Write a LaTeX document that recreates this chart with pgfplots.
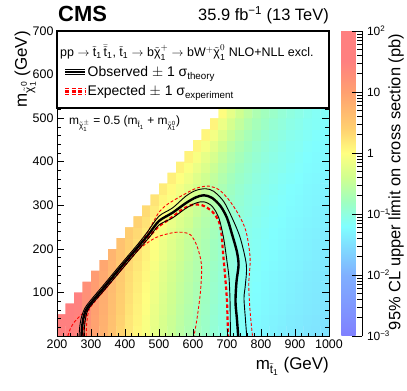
\documentclass[border=0pt]{standalone}
\usepackage{fontspec}
\setmainfont{Liberation Sans}
\setsansfont{Liberation Sans}
\usepackage{amsmath}
\usepackage{pgfplots}
\usepackage{pgfplotstable}
\pgfplotsset{compat=1.18}

\definecolor{cRed}{HTML}{FF0000}
\newcommand{\tst}{\tilde{\text{t}}}
\newcommand{\tchi}{\tilde{\text{χ}}}
\newcommand{\one}{\text{1}}

\pgfplotsset{colormap={cmsroot}{rgb255(0cm)=(128,128,255) rgb255(10cm)=(128,176,255)
  rgb255(15cm)=(128,224,255) rgb255(18cm)=(128,255,255) rgb255(22cm)=(160,255,192)
  rgb255(26cm)=(208,255,144) rgb255(30cm)=(255,255,128) rgb255(34cm)=(255,208,112)
  rgb255(40cm)=(255,160,112) rgb255(45cm)=(255,128,128) rgb255(50cm)=(255,128,128)}}

% log10 of the 95% CL upper limit (pb), one line per stop-mass column
\pgfplotstableread[row sep=\\]{
x y z\\
212.5 12.5 1.84\\ 212.5 37.5 1.86\\ 212.5 62.5 1.86\\ 212.5 87.5 1.86\\ 212.5 112.5 1.86\\ 212.5 137.5 1.86\\ 212.5 162.5 1.86\\ 212.5 187.5 1.86\\ 212.5 212.5 1.86\\ 212.5 237.5 1.86\\ 212.5 262.5 1.86\\ 212.5 287.5 1.86\\ 212.5 312.5 1.86\\ 212.5 337.5 1.86\\ 212.5 362.5 1.86\\ 212.5 387.5 1.86\\ 212.5 412.5 1.86\\ 212.5 437.5 1.86\\ 212.5 462.5 1.86\\ 212.5 487.5 1.86\\ 212.5 512.5 1.86\\
237.5 12.5 1.63\\ 237.5 37.5 1.65\\ 237.5 62.5 1.68\\ 237.5 87.5 1.68\\ 237.5 112.5 1.68\\ 237.5 137.5 1.68\\ 237.5 162.5 1.68\\ 237.5 187.5 1.68\\ 237.5 212.5 1.68\\ 237.5 237.5 1.68\\ 237.5 262.5 1.68\\ 237.5 287.5 1.68\\ 237.5 312.5 1.68\\ 237.5 337.5 1.68\\ 237.5 362.5 1.68\\ 237.5 387.5 1.68\\ 237.5 412.5 1.68\\ 237.5 437.5 1.68\\ 237.5 462.5 1.68\\ 237.5 487.5 1.68\\ 237.5 512.5 1.68\\
262.5 12.5 1.43\\ 262.5 37.5 1.44\\ 262.5 62.5 1.47\\ 262.5 87.5 1.49\\ 262.5 112.5 1.49\\ 262.5 137.5 1.49\\ 262.5 162.5 1.49\\ 262.5 187.5 1.49\\ 262.5 212.5 1.49\\ 262.5 237.5 1.49\\ 262.5 262.5 1.49\\ 262.5 287.5 1.49\\ 262.5 312.5 1.49\\ 262.5 337.5 1.49\\ 262.5 362.5 1.49\\ 262.5 387.5 1.49\\ 262.5 412.5 1.49\\ 262.5 437.5 1.49\\ 262.5 462.5 1.49\\ 262.5 487.5 1.49\\ 262.5 512.5 1.49\\
287.5 12.5 1.17\\ 287.5 37.5 1.19\\ 287.5 62.5 1.21\\ 287.5 87.5 1.23\\ 287.5 112.5 1.25\\ 287.5 137.5 1.25\\ 287.5 162.5 1.25\\ 287.5 187.5 1.25\\ 287.5 212.5 1.25\\ 287.5 237.5 1.25\\ 287.5 262.5 1.25\\ 287.5 287.5 1.25\\ 287.5 312.5 1.25\\ 287.5 337.5 1.25\\ 287.5 362.5 1.25\\ 287.5 387.5 1.25\\ 287.5 412.5 1.25\\ 287.5 437.5 1.25\\ 287.5 462.5 1.25\\ 287.5 487.5 1.25\\ 287.5 512.5 1.25\\
312.5 12.5 0.97\\ 312.5 37.5 0.98\\ 312.5 62.5 1.00\\ 312.5 87.5 1.02\\ 312.5 112.5 1.04\\ 312.5 137.5 1.06\\ 312.5 162.5 1.06\\ 312.5 187.5 1.06\\ 312.5 212.5 1.06\\ 312.5 237.5 1.06\\ 312.5 262.5 1.06\\ 312.5 287.5 1.06\\ 312.5 312.5 1.06\\ 312.5 337.5 1.06\\ 312.5 362.5 1.06\\ 312.5 387.5 1.06\\ 312.5 412.5 1.06\\ 312.5 437.5 1.06\\ 312.5 462.5 1.06\\ 312.5 487.5 1.06\\ 312.5 512.5 1.06\\
337.5 12.5 0.77\\ 337.5 37.5 0.79\\ 337.5 62.5 0.81\\ 337.5 87.5 0.83\\ 337.5 112.5 0.85\\ 337.5 137.5 0.87\\ 337.5 162.5 0.91\\ 337.5 187.5 0.91\\ 337.5 212.5 0.91\\ 337.5 237.5 0.91\\ 337.5 262.5 0.91\\ 337.5 287.5 0.91\\ 337.5 312.5 0.91\\ 337.5 337.5 0.91\\ 337.5 362.5 0.91\\ 337.5 387.5 0.91\\ 337.5 412.5 0.91\\ 337.5 437.5 0.91\\ 337.5 462.5 0.91\\ 337.5 487.5 0.91\\ 337.5 512.5 0.91\\
362.5 12.5 0.57\\ 362.5 37.5 0.59\\ 362.5 62.5 0.61\\ 362.5 87.5 0.63\\ 362.5 112.5 0.65\\ 362.5 137.5 0.67\\ 362.5 162.5 0.71\\ 362.5 187.5 0.74\\ 362.5 212.5 0.74\\ 362.5 237.5 0.74\\ 362.5 262.5 0.74\\ 362.5 287.5 0.74\\ 362.5 312.5 0.74\\ 362.5 337.5 0.74\\ 362.5 362.5 0.74\\ 362.5 387.5 0.74\\ 362.5 412.5 0.74\\ 362.5 437.5 0.74\\ 362.5 462.5 0.74\\ 362.5 487.5 0.74\\ 362.5 512.5 0.74\\
387.5 12.5 0.37\\ 387.5 37.5 0.38\\ 387.5 62.5 0.41\\ 387.5 87.5 0.43\\ 387.5 112.5 0.45\\ 387.5 137.5 0.47\\ 387.5 162.5 0.50\\ 387.5 187.5 0.54\\ 387.5 212.5 0.57\\ 387.5 237.5 0.57\\ 387.5 262.5 0.57\\ 387.5 287.5 0.57\\ 387.5 312.5 0.57\\ 387.5 337.5 0.57\\ 387.5 362.5 0.57\\ 387.5 387.5 0.57\\ 387.5 412.5 0.57\\ 387.5 437.5 0.57\\ 387.5 462.5 0.57\\ 387.5 487.5 0.57\\ 387.5 512.5 0.57\\
412.5 12.5 0.20\\ 412.5 37.5 0.21\\ 412.5 62.5 0.24\\ 412.5 87.5 0.26\\ 412.5 112.5 0.28\\ 412.5 137.5 0.30\\ 412.5 162.5 0.33\\ 412.5 187.5 0.37\\ 412.5 212.5 0.40\\ 412.5 237.5 0.44\\ 412.5 262.5 0.44\\ 412.5 287.5 0.44\\ 412.5 312.5 0.44\\ 412.5 337.5 0.44\\ 412.5 362.5 0.44\\ 412.5 387.5 0.44\\ 412.5 412.5 0.44\\ 412.5 437.5 0.44\\ 412.5 462.5 0.44\\ 412.5 487.5 0.44\\ 412.5 512.5 0.44\\
437.5 12.5 0.07\\ 437.5 37.5 0.09\\ 437.5 62.5 0.11\\ 437.5 87.5 0.13\\ 437.5 112.5 0.15\\ 437.5 137.5 0.17\\ 437.5 162.5 0.21\\ 437.5 187.5 0.24\\ 437.5 212.5 0.28\\ 437.5 237.5 0.32\\ 437.5 262.5 0.38\\ 437.5 287.5 0.38\\ 437.5 312.5 0.38\\ 437.5 337.5 0.38\\ 437.5 362.5 0.38\\ 437.5 387.5 0.38\\ 437.5 412.5 0.38\\ 437.5 437.5 0.38\\ 437.5 462.5 0.38\\ 437.5 487.5 0.38\\ 437.5 512.5 0.38\\
462.5 12.5 -0.06\\ 462.5 37.5 -0.05\\ 462.5 62.5 -0.02\\ 462.5 87.5 0.00\\ 462.5 112.5 0.02\\ 462.5 137.5 0.05\\ 462.5 162.5 0.08\\ 462.5 187.5 0.11\\ 462.5 212.5 0.15\\ 462.5 237.5 0.19\\ 462.5 262.5 0.25\\ 462.5 287.5 0.31\\ 462.5 312.5 0.31\\ 462.5 337.5 0.31\\ 462.5 362.5 0.31\\ 462.5 387.5 0.31\\ 462.5 412.5 0.31\\ 462.5 437.5 0.31\\ 462.5 462.5 0.31\\ 462.5 487.5 0.31\\ 462.5 512.5 0.31\\
487.5 12.5 -0.20\\ 487.5 37.5 -0.19\\ 487.5 62.5 -0.17\\ 487.5 87.5 -0.14\\ 487.5 112.5 -0.12\\ 487.5 137.5 -0.10\\ 487.5 162.5 -0.07\\ 487.5 187.5 -0.03\\ 487.5 212.5 0.00\\ 487.5 237.5 0.04\\ 487.5 262.5 0.10\\ 487.5 287.5 0.16\\ 487.5 312.5 0.23\\ 487.5 337.5 0.23\\ 487.5 362.5 0.23\\ 487.5 387.5 0.23\\ 487.5 412.5 0.23\\ 487.5 437.5 0.23\\ 487.5 462.5 0.23\\ 487.5 487.5 0.23\\ 487.5 512.5 0.23\\
512.5 12.5 -0.34\\ 512.5 37.5 -0.33\\ 512.5 62.5 -0.31\\ 512.5 87.5 -0.29\\ 512.5 112.5 -0.26\\ 512.5 137.5 -0.24\\ 512.5 162.5 -0.22\\ 512.5 187.5 -0.18\\ 512.5 212.5 -0.15\\ 512.5 237.5 -0.11\\ 512.5 262.5 -0.06\\ 512.5 287.5 0.00\\ 512.5 312.5 0.07\\ 512.5 337.5 0.15\\ 512.5 362.5 0.15\\ 512.5 387.5 0.15\\ 512.5 412.5 0.15\\ 512.5 437.5 0.15\\ 512.5 462.5 0.15\\ 512.5 487.5 0.15\\ 512.5 512.5 0.15\\
537.5 12.5 -0.45\\ 537.5 37.5 -0.44\\ 537.5 62.5 -0.42\\ 537.5 87.5 -0.40\\ 537.5 112.5 -0.38\\ 537.5 137.5 -0.36\\ 537.5 162.5 -0.33\\ 537.5 187.5 -0.30\\ 537.5 212.5 -0.26\\ 537.5 237.5 -0.23\\ 537.5 262.5 -0.18\\ 537.5 287.5 -0.12\\ 537.5 312.5 -0.05\\ 537.5 337.5 0.03\\ 537.5 362.5 0.13\\ 537.5 387.5 0.13\\ 537.5 412.5 0.13\\ 537.5 437.5 0.13\\ 537.5 462.5 0.13\\ 537.5 487.5 0.13\\ 537.5 512.5 0.13\\
562.5 12.5 -0.57\\ 562.5 37.5 -0.55\\ 562.5 62.5 -0.53\\ 562.5 87.5 -0.51\\ 562.5 112.5 -0.49\\ 562.5 137.5 -0.47\\ 562.5 162.5 -0.44\\ 562.5 187.5 -0.41\\ 562.5 212.5 -0.38\\ 562.5 237.5 -0.34\\ 562.5 262.5 -0.30\\ 562.5 287.5 -0.24\\ 562.5 312.5 -0.18\\ 562.5 337.5 -0.10\\ 562.5 362.5 -0.01\\ 562.5 387.5 0.11\\ 562.5 412.5 0.11\\ 562.5 437.5 0.11\\ 562.5 462.5 0.11\\ 562.5 487.5 0.11\\ 562.5 512.5 0.11\\
587.5 12.5 -0.67\\ 587.5 37.5 -0.65\\ 587.5 62.5 -0.63\\ 587.5 87.5 -0.61\\ 587.5 112.5 -0.59\\ 587.5 137.5 -0.57\\ 587.5 162.5 -0.55\\ 587.5 187.5 -0.52\\ 587.5 212.5 -0.49\\ 587.5 237.5 -0.45\\ 587.5 262.5 -0.40\\ 587.5 287.5 -0.35\\ 587.5 312.5 -0.30\\ 587.5 337.5 -0.22\\ 587.5 362.5 -0.13\\ 587.5 387.5 -0.03\\ 587.5 412.5 0.10\\ 587.5 437.5 0.10\\ 587.5 462.5 0.10\\ 587.5 487.5 0.10\\ 587.5 512.5 0.10\\
612.5 12.5 -0.77\\ 612.5 37.5 -0.76\\ 612.5 62.5 -0.74\\ 612.5 87.5 -0.71\\ 612.5 112.5 -0.70\\ 612.5 137.5 -0.67\\ 612.5 162.5 -0.65\\ 612.5 187.5 -0.63\\ 612.5 212.5 -0.60\\ 612.5 237.5 -0.57\\ 612.5 262.5 -0.53\\ 612.5 287.5 -0.47\\ 612.5 312.5 -0.42\\ 612.5 337.5 -0.36\\ 612.5 362.5 -0.27\\ 612.5 387.5 -0.17\\ 612.5 412.5 -0.06\\ 612.5 437.5 0.08\\ 612.5 462.5 0.08\\ 612.5 487.5 0.08\\ 612.5 512.5 0.08\\
637.5 12.5 -0.86\\ 637.5 37.5 -0.85\\ 637.5 62.5 -0.83\\ 637.5 87.5 -0.81\\ 637.5 112.5 -0.79\\ 637.5 137.5 -0.77\\ 637.5 162.5 -0.75\\ 637.5 187.5 -0.72\\ 637.5 212.5 -0.70\\ 637.5 237.5 -0.67\\ 637.5 262.5 -0.63\\ 637.5 287.5 -0.59\\ 637.5 312.5 -0.53\\ 637.5 337.5 -0.48\\ 637.5 362.5 -0.41\\ 637.5 387.5 -0.31\\ 637.5 412.5 -0.21\\ 637.5 437.5 -0.08\\ 637.5 462.5 0.08\\ 637.5 487.5 0.08\\ 637.5 512.5 0.08\\
662.5 12.5 -0.94\\ 662.5 37.5 -0.93\\ 662.5 62.5 -0.91\\ 662.5 87.5 -0.89\\ 662.5 112.5 -0.88\\ 662.5 137.5 -0.86\\ 662.5 162.5 -0.84\\ 662.5 187.5 -0.80\\ 662.5 212.5 -0.79\\ 662.5 237.5 -0.76\\ 662.5 262.5 -0.72\\ 662.5 287.5 -0.68\\ 662.5 312.5 -0.64\\ 662.5 337.5 -0.58\\ 662.5 362.5 -0.52\\ 662.5 387.5 -0.44\\ 662.5 412.5 -0.34\\ 662.5 437.5 -0.23\\ 662.5 462.5 -0.09\\ 662.5 487.5 0.09\\ 662.5 512.5 0.09\\
687.5 12.5 -1.03\\ 687.5 37.5 -1.01\\ 687.5 62.5 -1.00\\ 687.5 87.5 -0.98\\ 687.5 112.5 -0.96\\ 687.5 137.5 -0.95\\ 687.5 162.5 -0.92\\ 687.5 187.5 -0.90\\ 687.5 212.5 -0.87\\ 687.5 237.5 -0.86\\ 687.5 262.5 -0.83\\ 687.5 287.5 -0.79\\ 687.5 312.5 -0.75\\ 687.5 337.5 -0.71\\ 687.5 362.5 -0.65\\ 687.5 387.5 -0.58\\ 687.5 412.5 -0.51\\ 687.5 437.5 -0.41\\ 687.5 462.5 -0.29\\ 687.5 487.5 -0.15\\ 687.5 512.5 0.02\\
712.5 12.5 -1.10\\ 712.5 37.5 -1.09\\ 712.5 62.5 -1.07\\ 712.5 87.5 -1.05\\ 712.5 112.5 -1.04\\ 712.5 137.5 -1.02\\ 712.5 162.5 -1.00\\ 712.5 187.5 -0.98\\ 712.5 212.5 -0.96\\ 712.5 237.5 -0.93\\ 712.5 262.5 -0.91\\ 712.5 287.5 -0.88\\ 712.5 312.5 -0.85\\ 712.5 337.5 -0.81\\ 712.5 362.5 -0.77\\ 712.5 387.5 -0.70\\ 712.5 412.5 -0.64\\ 712.5 437.5 -0.57\\ 712.5 462.5 -0.47\\ 712.5 487.5 -0.35\\ 712.5 512.5 -0.21\\
737.5 12.5 -1.16\\ 737.5 37.5 -1.15\\ 737.5 62.5 -1.13\\ 737.5 87.5 -1.11\\ 737.5 112.5 -1.10\\ 737.5 137.5 -1.09\\ 737.5 162.5 -1.07\\ 737.5 187.5 -1.05\\ 737.5 212.5 -1.03\\ 737.5 237.5 -1.01\\ 737.5 262.5 -0.98\\ 737.5 287.5 -0.96\\ 737.5 312.5 -0.93\\ 737.5 337.5 -0.90\\ 737.5 362.5 -0.86\\ 737.5 387.5 -0.81\\ 737.5 412.5 -0.75\\ 737.5 437.5 -0.69\\ 737.5 462.5 -0.62\\ 737.5 487.5 -0.51\\ 737.5 512.5 -0.40\\
762.5 12.5 -1.21\\ 762.5 37.5 -1.20\\ 762.5 62.5 -1.18\\ 762.5 87.5 -1.17\\ 762.5 112.5 -1.15\\ 762.5 137.5 -1.14\\ 762.5 162.5 -1.12\\ 762.5 187.5 -1.10\\ 762.5 212.5 -1.09\\ 762.5 237.5 -1.07\\ 762.5 262.5 -1.05\\ 762.5 287.5 -1.01\\ 762.5 312.5 -1.00\\ 762.5 337.5 -0.97\\ 762.5 362.5 -0.93\\ 762.5 387.5 -0.89\\ 762.5 412.5 -0.85\\ 762.5 437.5 -0.79\\ 762.5 462.5 -0.73\\ 762.5 487.5 -0.65\\ 762.5 512.5 -0.55\\
787.5 12.5 -1.25\\ 787.5 37.5 -1.24\\ 787.5 62.5 -1.22\\ 787.5 87.5 -1.21\\ 787.5 112.5 -1.20\\ 787.5 137.5 -1.18\\ 787.5 162.5 -1.17\\ 787.5 187.5 -1.15\\ 787.5 212.5 -1.13\\ 787.5 237.5 -1.12\\ 787.5 262.5 -1.09\\ 787.5 287.5 -1.07\\ 787.5 312.5 -1.04\\ 787.5 337.5 -1.03\\ 787.5 362.5 -1.00\\ 787.5 387.5 -0.96\\ 787.5 412.5 -0.92\\ 787.5 437.5 -0.88\\ 787.5 462.5 -0.82\\ 787.5 487.5 -0.75\\ 787.5 512.5 -0.68\\
812.5 12.5 -1.29\\ 812.5 37.5 -1.28\\ 812.5 62.5 -1.26\\ 812.5 87.5 -1.25\\ 812.5 112.5 -1.24\\ 812.5 137.5 -1.23\\ 812.5 162.5 -1.21\\ 812.5 187.5 -1.19\\ 812.5 212.5 -1.18\\ 812.5 237.5 -1.16\\ 812.5 262.5 -1.14\\ 812.5 287.5 -1.12\\ 812.5 312.5 -1.10\\ 812.5 337.5 -1.07\\ 812.5 362.5 -1.05\\ 812.5 387.5 -1.02\\ 812.5 412.5 -0.99\\ 812.5 437.5 -0.95\\ 812.5 462.5 -0.91\\ 812.5 487.5 -0.84\\ 812.5 512.5 -0.78\\
837.5 12.5 -1.32\\ 837.5 37.5 -1.31\\ 837.5 62.5 -1.29\\ 837.5 87.5 -1.28\\ 837.5 112.5 -1.27\\ 837.5 137.5 -1.26\\ 837.5 162.5 -1.24\\ 837.5 187.5 -1.22\\ 837.5 212.5 -1.21\\ 837.5 237.5 -1.20\\ 837.5 262.5 -1.18\\ 837.5 287.5 -1.16\\ 837.5 312.5 -1.14\\ 837.5 337.5 -1.12\\ 837.5 362.5 -1.09\\ 837.5 387.5 -1.07\\ 837.5 412.5 -1.04\\ 837.5 437.5 -1.01\\ 837.5 462.5 -0.97\\ 837.5 487.5 -0.92\\ 837.5 512.5 -0.86\\
862.5 12.5 -1.35\\ 862.5 37.5 -1.34\\ 862.5 62.5 -1.32\\ 862.5 87.5 -1.31\\ 862.5 112.5 -1.30\\ 862.5 137.5 -1.29\\ 862.5 162.5 -1.27\\ 862.5 187.5 -1.26\\ 862.5 212.5 -1.24\\ 862.5 237.5 -1.23\\ 862.5 262.5 -1.21\\ 862.5 287.5 -1.19\\ 862.5 312.5 -1.18\\ 862.5 337.5 -1.16\\ 862.5 362.5 -1.14\\ 862.5 387.5 -1.10\\ 862.5 412.5 -1.09\\ 862.5 437.5 -1.06\\ 862.5 462.5 -1.02\\ 862.5 487.5 -0.98\\ 862.5 512.5 -0.94\\
887.5 12.5 -1.38\\ 887.5 37.5 -1.37\\ 887.5 62.5 -1.35\\ 887.5 87.5 -1.34\\ 887.5 112.5 -1.33\\ 887.5 137.5 -1.32\\ 887.5 162.5 -1.30\\ 887.5 187.5 -1.29\\ 887.5 212.5 -1.28\\ 887.5 237.5 -1.26\\ 887.5 262.5 -1.25\\ 887.5 287.5 -1.23\\ 887.5 312.5 -1.21\\ 887.5 337.5 -1.20\\ 887.5 362.5 -1.17\\ 887.5 387.5 -1.15\\ 887.5 412.5 -1.12\\ 887.5 437.5 -1.11\\ 887.5 462.5 -1.08\\ 887.5 487.5 -1.04\\ 887.5 512.5 -1.00\\
912.5 12.5 -1.40\\ 912.5 37.5 -1.39\\ 912.5 62.5 -1.37\\ 912.5 87.5 -1.36\\ 912.5 112.5 -1.35\\ 912.5 137.5 -1.34\\ 912.5 162.5 -1.32\\ 912.5 187.5 -1.31\\ 912.5 212.5 -1.30\\ 912.5 237.5 -1.29\\ 912.5 262.5 -1.27\\ 912.5 287.5 -1.25\\ 912.5 312.5 -1.24\\ 912.5 337.5 -1.22\\ 912.5 362.5 -1.20\\ 912.5 387.5 -1.18\\ 912.5 412.5 -1.16\\ 912.5 437.5 -1.13\\ 912.5 462.5 -1.11\\ 912.5 487.5 -1.08\\ 912.5 512.5 -1.05\\
937.5 12.5 -1.43\\ 937.5 37.5 -1.42\\ 937.5 62.5 -1.40\\ 937.5 87.5 -1.39\\ 937.5 112.5 -1.38\\ 937.5 137.5 -1.37\\ 937.5 162.5 -1.35\\ 937.5 187.5 -1.34\\ 937.5 212.5 -1.33\\ 937.5 237.5 -1.32\\ 937.5 262.5 -1.30\\ 937.5 287.5 -1.28\\ 937.5 312.5 -1.27\\ 937.5 337.5 -1.26\\ 937.5 362.5 -1.24\\ 937.5 387.5 -1.22\\ 937.5 412.5 -1.20\\ 937.5 437.5 -1.18\\ 937.5 462.5 -1.15\\ 937.5 487.5 -1.13\\ 937.5 512.5 -1.10\\
962.5 12.5 -1.45\\ 962.5 37.5 -1.44\\ 962.5 62.5 -1.42\\ 962.5 87.5 -1.41\\ 962.5 112.5 -1.40\\ 962.5 137.5 -1.39\\ 962.5 162.5 -1.37\\ 962.5 187.5 -1.36\\ 962.5 212.5 -1.35\\ 962.5 237.5 -1.34\\ 962.5 262.5 -1.32\\ 962.5 287.5 -1.31\\ 962.5 312.5 -1.29\\ 962.5 337.5 -1.28\\ 962.5 362.5 -1.26\\ 962.5 387.5 -1.24\\ 962.5 412.5 -1.23\\ 962.5 437.5 -1.21\\ 962.5 462.5 -1.19\\ 962.5 487.5 -1.15\\ 962.5 512.5 -1.14\\
987.5 12.5 -1.47\\ 987.5 37.5 -1.46\\ 987.5 62.5 -1.44\\ 987.5 87.5 -1.43\\ 987.5 112.5 -1.42\\ 987.5 137.5 -1.41\\ 987.5 162.5 -1.39\\ 987.5 187.5 -1.38\\ 987.5 212.5 -1.37\\ 987.5 237.5 -1.36\\ 987.5 262.5 -1.34\\ 987.5 287.5 -1.33\\ 987.5 312.5 -1.32\\ 987.5 337.5 -1.30\\ 987.5 362.5 -1.29\\ 987.5 387.5 -1.27\\ 987.5 412.5 -1.25\\ 987.5 437.5 -1.24\\ 987.5 462.5 -1.21\\ 987.5 487.5 -1.19\\ 987.5 512.5 -1.16\\
}\xslimit

\begin{document}
\begin{tikzpicture}
\begin{axis}[name=main, scale only axis, width=272bp, height=305bp,
    xmin=200, xmax=1000, ymin=0, ymax=700,
    axis on top,
    colormap name=cmsroot, point meta min=-3, point meta max=2,
    xtick={200,300,...,1000}, ytick={100,200,...,700},
    minor xtick={200,220,...,1000}, minor ytick={0,20,...,700},
    major tick length=7bp, minor tick length=3.5bp,
    tick style={black, line width=0.6bp},
    axis line style={line width=0.9bp},
    /pgf/number format/assume math mode=true,
    /pgf/number format/1000 sep={},
    tick label style={font=\fontsize{12.5}{14}\selectfont},
    colorbar,
    colorbar style={at={(parent axis.north east)}, anchor=north west, xshift=4bp,
      scale only axis, width=21bp, height=305bp,
      axis x line=none, axis y line*=right,
      ytick={-3,-2,-1,0,1,2},
      yticklabels={10\textsuperscript{−3},10\textsuperscript{−2},10\textsuperscript{−1},1,10,10\textsuperscript{2}},
      minor ytick={-2.699,-2.523,-2.398,-2.301,-2.222,-2.155,-2.097,-2.046,
        -1.699,-1.523,-1.398,-1.301,-1.222,-1.155,-1.097,-1.046,
        -0.699,-0.523,-0.398,-0.301,-0.222,-0.155,-0.097,-0.046,
        0.301,0.477,0.602,0.699,0.778,0.845,0.903,0.954,
        1.301,1.477,1.602,1.699,1.778,1.845,1.903,1.954},
      ytick pos=right, tick align=inside,
      major tick length=10bp, minor tick length=5bp,
      tick style={black, line width=0.6bp},
      yticklabel style={font=\fontsize{12}{14}\selectfont, xshift=1bp}},
  ]
\addplot[matrix plot*, mesh/rows=21, mesh/cols=32, mesh/ordering=y varies,
  point meta=explicit] table[x=x, y=y, meta=z] {\xslimit};
% kinematically forbidden corner
\addplot[fill=white, draw=none] coordinates {
  (200,50) (225,50) (225,75) (250,75) (250,100) (275,100) (275,125) (300,125)
  (300,150) (325,150) (325,175) (350,175) (350,200) (375,200) (375,225) (400,225)
  (400,250) (425,250) (425,275) (450,275) (450,300) (475,300) (475,325) (500,325)
  (500,350) (525,350) (525,375) (550,375) (550,400) (575,400) (575,425) (600,425)
  (600,450) (625,450) (625,475) (650,475) (650,500) (675,500) (675,525) (675,700)
  (200,700)} -- cycle;
% expected
\addplot[cRed, line width=0.9bp, dash pattern=on 3bp off 2bp, smooth, tension=0.5] coordinates {
  (232,0) (240,18) (252,33) (268,46) (285,60) (295,71) (340,116) (390,163) (440,209)
  (462,232) (482,260) (500,284) (521,300) (549,314) (588,331) (609,339) (630,343)
  (647,344) (676,336) (705,313) (734,279) (756,240) (768,179) (764,117) (768,56) (775,0)};
\addplot[cRed, line width=0.9bp, dash pattern=on 3bp off 2bp, smooth, tension=0.5] coordinates {
  (286,0) (287,25) (291,50) (300,68) (345,110) (395,157) (420,180) (442,200) (491,226)
  (540,237) (569,238) (593,232) (612,206) (625,163) (622,102) (612,41) (603,0)};
\addplot[cRed, line width=2.2bp, dash pattern=on 3.5bp off 2.5bp, smooth, tension=0.5] coordinates {
  (276,0) (278,22) (283,46) (294,66) (343,111) (393,158) (443,203) (474,231) (500,252)
  (530,268) (570,291) (598,301) (627,300) (656,286) (676,263) (684,233) (688,194)
  (695,133) (700,79) (703,0)};
% observed
\addplot[black, line width=0.9bp, smooth, tension=0.5] coordinates {
  (265,0) (267,22) (273,46) (287,70) (337,117) (387,164) (437,210) (467,240) (500,275)
  (540,294) (579,321) (608,334) (637,338) (661,332) (690,309) (715,271) (739,225)
  (757,163) (754,117) (750,87) (754,41) (758,0)};
\addplot[black, line width=0.9bp, smooth, tension=0.5] coordinates {
  (279,0) (281,22) (285,44) (295,65) (344,110) (394,156) (444,202) (474,229) (500,255)
  (540,271) (579,293) (608,305) (632,308) (656,298) (676,271) (690,225) (700,171)
  (706,133) (709,79) (710,0)};
\addplot[black, line width=2.4bp, smooth, tension=0.5] coordinates {
  (272,0) (274,22) (279,45) (291,67) (340,113) (390,160) (440,206) (470,234) (500,264)
  (540,283) (579,305) (608,318) (632,323) (656,317) (681,298) (700,271) (715,233)
  (729,194) (734,163) (728,125) (725,79) (729,41) (733,0)};
\end{axis}

% axis titles
\node[anchor=north east, inner sep=0pt, font=\fontsize{17}{20}\selectfont] at (272bp,-21bp)
  {m$_{\tst_{\one}}$ (GeV)};
\node[rotate=90, anchor=south east, inner sep=0pt, font=\fontsize{17}{20}\selectfont] at (-21bp,305bp)
  {m$_{\tchi^{\text{0}}_{\one}}$ (GeV)};
\node[rotate=90, inner sep=0pt, font=\fontsize{16.5}{20}\selectfont] at (339bp,154bp)
  {95\% CL upper limit on cross section (pb)};
% legend box
\filldraw[fill=white, draw=black, line width=1.5bp] (0bp,228bp) rectangle (272bp,305bp);
\node[anchor=base west, inner sep=0pt, font=\fontsize{12.5}{14}\selectfont] at (3bp,279bp)
  {pp $\rightarrow$ $\tst_{\one}\,\bar{\tst}_{\one}$, $\tst_{\one}$ $\rightarrow$ b$\tchi^{+}_{\one}$ $\rightarrow$ bW$^{+}\tchi^{0}_{\one}$ NLO+NLL excl.};
\draw[black, line width=2.2bp] (8bp,264bp) -- (28bp,264bp);
\draw[black, line width=0.8bp] (8bp,266.8bp) -- (28bp,266.8bp);
\draw[black, line width=0.8bp] (8bp,261.2bp) -- (28bp,261.2bp);
\node[anchor=base west, inner sep=0pt, font=\fontsize{14}{16}\selectfont] at (30.5bp,259bp)
  {Observed $\pm$ 1 σ$_{\text{theory}}$};
\draw[cRed, line width=2.2bp, dash pattern=on 4bp off 2.5bp] (8bp,244.5bp) -- (28bp,244.5bp);
\draw[cRed, line width=0.8bp, dash pattern=on 4bp off 2.5bp] (8bp,247.7bp) -- (28bp,247.7bp);
\draw[cRed, line width=0.8bp, dash pattern=on 4bp off 2.5bp] (8bp,241.3bp) -- (28bp,241.3bp);
\node[anchor=base west, inner sep=0pt, font=\fontsize{14}{16}\selectfont] at (30.5bp,240bp)
  {Expected $\pm$ 1 σ$_{\text{experiment}}$};
% texts
\node[anchor=base west, inner sep=0pt, font=\fontsize{12}{14}\selectfont] at (12bp,211bp)
  {m$_{\tchi^{\pm}_{\one}}$ = 0.5 (m$_{\tst_{\one}}$ + m$_{\tchi^{\text{0}}_{\one}}$)};
\node[anchor=base west, inner sep=0pt, font=\fontsize{22}{24}\selectfont\bfseries] at (1bp,314bp) {CMS};
\node[anchor=base east, inner sep=0pt, font=\fontsize{16.5}{18}\selectfont] at (272bp,315bp)
  {35.9 fb\textsuperscript{−1} (13 TeV)};
\pgfresetboundingbox
\path[use as bounding box] (-57bp,-55bp) rectangle (350bp,336bp);
\end{tikzpicture}
\end{document}
